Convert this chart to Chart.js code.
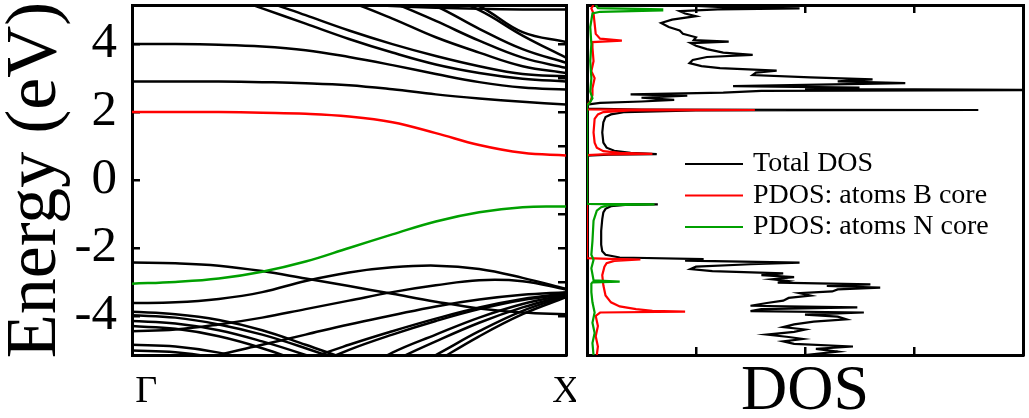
<!DOCTYPE html>
<html>
<head>
<meta charset="utf-8">
<script src="https://cdn.jsdelivr.net/npm/chart.js"></script>
<style>
  html, body { margin: 0; padding: 0; background: #fff; }
  #wrap { position: relative; width: 1029px; height: 418px; }
  #bands { position: absolute; left: 0; top: 0; }
  #dos { position: absolute; left: 576px; top: 0; }
</style>
</head>
<body>
<div id="wrap">
  <canvas id="bands" width="576" height="418"></canvas>
  <canvas id="dos" width="453" height="418"></canvas>
</div>
<script>
// k path Γ -> X
const kPoints = [0, 0.1, 0.2, 0.3, 0.4, 0.5, 0.6, 0.7, 0.8, 0.9, 1.0];
const kLabels = ['   Γ', 'X'];
const energyTicks = [-4, -3, -2, -1, 0, 1, 2, 3, 4];

// bands (eV) at kPoints
const bandB = [2.0, 2.0, 2.0, 1.98, 1.95, 1.87, 1.7, 1.38, 1.03, 0.8, 0.72];
const bandN = [-3.05, -3.0, -2.9, -2.7, -2.4, -2.0, -1.6, -1.22, -0.95, -0.8, -0.78];

const conductionBands = [
  [4.0, 4.0, 3.98, 3.93, 3.82, 3.62, 3.38, 3.12, 2.88, 2.72, 2.66],
  [2.9, 2.9, 2.9, 2.88, 2.85, 2.79, 2.67, 2.52, 2.4, 2.3, 2.22],
  [6.0, 5.8, 5.5, 5.05, 4.6, 4.15, 3.75, 3.4, 3.15, 2.98, 2.9],
  [6.3, 6.1, 5.8, 5.3, 4.85, 4.4, 4.0, 3.65, 3.35, 3.12, 3.05],
  [7.0, 6.8, 6.5, 6.1, 5.65, 5.25, 4.75, 4.2, 3.75, 3.35, 3.15],
  [7.5, 7.3, 7.0, 6.6, 6.1, 5.65, 5.22, 4.68, 4.1, 3.6, 3.3],
  [8.0, 7.8, 7.5, 7.1, 6.6, 6.1, 5.6, 5.12, 4.45, 3.85, 3.45],
  [8.0, 8.0, 7.8, 7.4, 6.9, 6.4, 5.9, 5.5, 5.0, 4.25, 3.6],
  [8.0, 8.0, 8.0, 7.6, 7.1, 6.6, 6.1, 5.6, 5.12, 4.35, 4.06],
  [5.3, 5.3, 5.3, 5.28, 5.24, 5.18, 5.12, 5.07, 5.04, 5.02, 5.02]
];

const valenceBands = [
  [-2.43, -2.45, -2.52, -2.68, -2.9, -3.12, -3.35, -3.58, -3.78, -3.9, -3.95],
  [-3.62, -3.6, -3.5, -3.3, -2.97, -2.72, -2.57, -2.52, -2.62, -2.88, -3.2],
  [-4.45, -4.4, -4.25, -4.05, -3.8, -3.55, -3.3, -3.1, -2.95, -2.98, -3.22],
  [-5.8, -5.5, -5.15, -4.85, -4.55, -4.25, -3.98, -3.72, -3.52, -3.38, -3.3],
  [-7.0, -6.7, -6.3, -5.85, -5.3, -4.85, -4.45, -4.08, -3.75, -3.5, -3.33],
  [-7.2, -6.9, -6.6, -6.15, -5.55, -5.0, -4.55, -4.15, -3.8, -3.53, -3.36],
  [-8.0, -7.8, -7.5, -7.0, -6.4, -5.8, -5.08, -4.55, -4.05, -3.65, -3.38],
  [-8.0, -8.0, -7.8, -7.3, -6.7, -6.1, -5.35, -4.75, -4.2, -3.75, -3.4],
  [-8.0, -8.0, -8.0, -7.8, -7.2, -6.6, -5.8, -5.15, -4.45, -3.85, -3.42],
  [-8.0, -8.0, -8.0, -8.0, -7.6, -6.9, -6.1, -5.35, -4.6, -3.95, -3.45],
  [-3.88, -3.95, -4.12, -4.42, -4.85, -5.3, -5.8, -6.3, -6.8, -7.2, -7.4],
  [-3.98, -4.05, -4.25, -4.55, -4.95, -5.4, -5.9, -6.4, -6.9, -7.3, -7.5],
  [-4.15, -4.22, -4.42, -4.75, -5.15, -5.6, -6.1, -6.6, -7.0, -7.4, -7.6],
  [-4.3, -4.38, -4.6, -4.95, -5.4, -5.9, -6.4, -6.9, -7.3, -7.6, -7.8],
  [-4.85, -4.9, -5.08, -5.4, -5.8, -6.3, -6.8, -7.2, -7.5, -7.7, -7.8],
  [-5.02, -5.07, -5.25, -5.6, -6.0, -6.5, -7.0, -7.4, -7.7, -7.9, -8.0]
];

// DOS: [energy eV, value]
const totalDos = [
  [5.15, 1.4], [5.12, 1.0], [5.08, 1.3], [5.05, 1.95], [5.02, 1.2], [4.97, 0.85], [4.9, 0.9],
  [4.82, 1.0], [4.72, 0.78], [4.62, 0.68], [4.5, 0.75], [4.4, 0.85], [4.3, 0.88], [4.2, 1.0],
  [4.12, 0.98], [4.07, 1.3], [4.03, 0.95], [3.95, 1.0], [3.85, 1.1], [3.75, 1.25], [3.68, 1.52],
  [3.62, 1.1], [3.53, 0.97], [3.44, 0.94], [3.35, 1.05], [3.29, 1.22], [3.22, 1.74], [3.16, 1.55],
  [3.09, 1.52], [3.02, 2.05], [2.96, 2.62], [2.9, 2.3], [2.85, 2.92], [2.8, 2.0], [2.76, 1.34],
  [2.72, 2.5], [2.68, 2.0], [2.65, 4.3], [2.62, 1.6], [2.57, 1.25], [2.52, 0.4], [2.48, 0.92],
  [2.42, 0.5], [2.36, 0.8], [2.31, 0.5], [2.27, 0.12], [2.22, 0.0], [2.1, 0.0], [2.075, 0.5],
  [2.06, 3.59], [2.045, 1.0], [2.0, 0.35], [1.93, 0.22], [1.85, 0.17], [1.7, 0.15], [1.4, 0.14],
  [1.1, 0.15], [0.95, 0.18], [0.86, 0.25], [0.8, 0.4], [0.76, 0.64], [0.745, 0.2], [0.72, 0.0],
  [-0.7, 0.0], [-0.715, 0.65], [-0.73, 0.35], [-0.77, 0.22], [-0.85, 0.17], [-0.95, 0.15],
  [-1.15, 0.14], [-1.5, 0.13], [-1.9, 0.13], [-2.1, 0.14], [-2.2, 0.17], [-2.28, 0.3],
  [-2.33, 1.07], [-2.37, 0.9], [-2.43, 1.95], [-2.48, 1.5], [-2.55, 1.0], [-2.62, 0.95],
  [-2.68, 1.15], [-2.75, 1.8], [-2.8, 1.6], [-2.86, 1.9], [-2.92, 1.7], [-2.97, 1.84],
  [-3.02, 1.75], [-3.07, 2.6], [-3.12, 2.2], [-3.17, 2.69], [-3.22, 2.3], [-3.28, 2.25],
  [-3.33, 1.95], [-3.4, 2.05], [-3.47, 1.85], [-3.55, 1.8], [-3.62, 1.65], [-3.7, 1.5],
  [-3.75, 2.48], [-3.8, 1.6], [-3.86, 1.5], [-3.9, 2.54], [-3.96, 2.0], [-4.02, 2.3],
  [-4.1, 2.38], [-4.17, 2.08], [-4.25, 1.9], [-4.33, 1.8], [-4.4, 2.0], [-4.47, 1.9],
  [-4.55, 1.65], [-4.62, 1.85], [-4.68, 1.98], [-4.75, 1.8], [-4.82, 1.9], [-4.9, 2.44],
  [-4.97, 2.1], [-5.05, 2.3], [-5.15, 2.0]
];

const bCoreDos = [
  [5.15, 0.06], [5.05, 0.04], [4.9, 0.06], [4.6, 0.07], [4.3, 0.08], [4.16, 0.12], [4.1, 0.32],
  [4.06, 0.05], [3.9, 0.05], [3.5, 0.06], [3.2, 0.04], [3.0, 0.07], [2.7, 0.05], [2.5, 0.05],
  [2.3, 0.03], [2.22, 0], [2.08, 0], [2.07, 0.3], [2.06, 1.54], [2.045, 0.4], [2.0, 0.15],
  [1.93, 0.1], [1.8, 0.07], [1.4, 0.06], [1.1, 0.07], [0.95, 0.09], [0.85, 0.15], [0.8, 0.3],
  [0.77, 0.6], [0.755, 0.15], [0.73, 0], [-2.3, 0], [-2.32, 0.2], [-2.34, 0.49], [-2.38, 0.25],
  [-2.45, 0.18], [-2.55, 0.16], [-2.8, 0.14], [-3.1, 0.15], [-3.4, 0.17], [-3.6, 0.22],
  [-3.72, 0.3], [-3.8, 0.45], [-3.85, 0.6], [-3.875, 0.9], [-3.9, 0.12], [-4.0, 0.08],
  [-4.3, 0.1], [-4.6, 0.08], [-4.9, 0.1], [-5.15, 0.09]
];

const nCoreDos = [
  [5.15, 0.08], [5.06, 0.1], [5.02, 0.69], [4.99, 0.69], [4.95, 0.12], [4.9, 0.05], [4.5, 0.03],
  [4.0, 0.04], [3.5, 0.03], [3.0, 0.04], [2.6, 0.03], [2.4, 0.05], [2.25, 0.02], [2.2, 0],
  [-0.7, 0], [-0.71, 0.3], [-0.72, 0.62], [-0.74, 0.2], [-0.8, 0.13], [-0.9, 0.09], [-1.2, 0.06],
  [-1.8, 0.05], [-2.2, 0.04], [-2.35, 0.06], [-2.6, 0.04], [-2.95, 0.06], [-2.99, 0.3],
  [-3.01, 0.05], [-3.05, 0.04], [-3.3, 0.04], [-3.6, 0.05], [-3.9, 0.07], [-4.2, 0.05],
  [-4.5, 0.07], [-4.8, 0.05], [-5.15, 0.06]
];

const legendLabels = ['Total DOS', 'PDOS: atoms B core', 'PDOS: atoms N core'];

const SERIF = '"Liberation Serif", "DejaVu Serif", serif';
const E_MIN = -5.15, E_MAX = 5.15;

function bandPoints(values) {
  return kPoints.map((k, i) => ({ x: k, y: values[i] }));
}
function dosPoints(pairs) {
  return pairs.map(p => ({ x: p[1], y: p[0] }));
}

// fixed scale sizes so the plot boxes land where they should
function fixSize(w, h) {
  return s => {
    if (w !== null) s.width = w;
    if (h !== null) s.height = h;
    s.paddingTop = 0; s.paddingBottom = 0; s.paddingLeft = 0; s.paddingRight = 0;
  };
}

const boxBorder = { display: true, color: '#000', width: 3 };
const inTicks = { drawOnChartArea: false, drawTicks: true, tickLength: -8, color: '#000', lineWidth: 2.5 };
const energyTickBuilder = s => { s.ticks = energyTicks.map(v => ({ value: v })); };

const bandDatasets = [
  { data: bandPoints(bandB), borderColor: '#ff0000' },
  { data: bandPoints(bandN), borderColor: '#00a000' }
].concat(conductionBands.concat(valenceBands).map(b => ({ data: bandPoints(b), borderColor: '#000' })));

bandDatasets.forEach(d => {
  d.borderWidth = 2.5;
  d.pointRadius = 0;
  d.tension = 0.4;
  d.fill = false;
});

new Chart(document.getElementById('bands'), {
  type: 'line',
  data: { datasets: bandDatasets },
  options: {
    responsive: false,
    animation: false,
    events: [],
    layout: { padding: { top: 5, right: 10, bottom: 0, left: 0 } },
    elements: { line: { capBezierPoints: false } },
    plugins: { legend: { display: false }, tooltip: { enabled: false } },
    scales: {
      x: {
        type: 'linear', position: 'bottom', min: 0, max: 1,
        afterBuildTicks: s => { s.ticks = [{ value: 0 }, { value: 1 }]; },
        ticks: {
          callback: v => (v === 0 ? kLabels[0] : v === 1 ? kLabels[1] : ''),
          font: { family: SERIF, size: 38 }, color: '#000', padding: 14, maxRotation: 0
        },
        grid: { display: false, drawTicks: false },
        border: boxBorder,
        afterFit: fixSize(null, 63)
      },
      x2: {
        type: 'linear', position: 'top', min: 0, max: 1,
        ticks: { display: false },
        grid: { display: false, drawTicks: false },
        border: boxBorder,
        afterFit: fixSize(null, 0)
      },
      y: {
        type: 'linear', position: 'left', min: E_MIN, max: E_MAX,
        afterBuildTicks: energyTickBuilder,
        ticks: {
          callback: v => (v % 2 === 0 ? String(v) : ''),
          font: { family: SERIF, size: 51 }, color: '#000', padding: 23
        },
        grid: inTicks,
        border: boxBorder,
        title: {
          display: true, text: 'Energy (eV)', color: '#000',
          font: { family: SERIF, size: 72, lineHeight: 1 },
          padding: { top: 0, bottom: 0 }
        },
        afterFit: fixSize(132, null)
      },
      y2: {
        type: 'linear', position: 'right', min: E_MIN, max: E_MAX,
        afterBuildTicks: energyTickBuilder,
        ticks: { display: false },
        grid: inTicks,
        border: boxBorder,
        afterFit: fixSize(0, null)
      }
    }
  }
});

const legendColors = ['#000', '#ff0000', '#00a000'];
const insideLegend = {
  id: 'insideLegend',
  afterDatasetsDraw(chart) {
    const { ctx, chartArea } = chart;
    ctx.save();
    ctx.font = '28px ' + SERIF;
    ctx.textBaseline = 'middle';
    ctx.textAlign = 'left';
    legendLabels.forEach((label, i) => {
      const y = chartArea.top + 159 + i * 31.5;
      ctx.strokeStyle = legendColors[i];
      ctx.lineWidth = 2;
      ctx.beginPath();
      ctx.moveTo(chartArea.left + 98, y);
      ctx.lineTo(chartArea.left + 156, y);
      ctx.stroke();
      ctx.fillStyle = '#000';
      ctx.fillText(label, chartArea.left + 166, y);
    });
    ctx.restore();
  }
};

new Chart(document.getElementById('dos'), {
  type: 'scatter',
  data: {
    datasets: [
      { label: legendLabels[2], data: dosPoints(nCoreDos), borderColor: '#00a000' },
      { label: legendLabels[1], data: dosPoints(bCoreDos), borderColor: '#ff0000' },
      { label: legendLabels[0], data: dosPoints(totalDos), borderColor: '#000' }
    ].map(d => Object.assign(d, { showLine: true, pointRadius: 0, borderWidth: 2.2, tension: 0 }))
  },
  options: {
    responsive: false,
    animation: false,
    events: [],
    layout: { padding: { top: 5, right: 6, bottom: 0, left: 11 } },
    plugins: { legend: { display: false }, tooltip: { enabled: false } },
    scales: {
      x: {
        type: 'linear', position: 'bottom', min: 0, max: 4,
        afterBuildTicks: s => { s.ticks = [1, 2, 3].map(v => ({ value: v })); },
        ticks: { display: false },
        grid: inTicks,
        border: boxBorder,
        title: {
          display: true, text: 'DOS', color: '#000',
          font: { family: SERIF, size: 64, lineHeight: 0.8 },
          padding: { top: 0, bottom: 0 }
        },
        afterFit: fixSize(null, 63)
      },
      x2: {
        type: 'linear', position: 'top', min: 0, max: 4,
        afterBuildTicks: s => { s.ticks = [1, 2, 3].map(v => ({ value: v })); },
        ticks: { display: false },
        grid: inTicks,
        border: boxBorder,
        afterFit: fixSize(null, 0)
      },
      y: {
        type: 'linear', position: 'left', min: E_MIN, max: E_MAX,
        ticks: { display: false },
        grid: { display: false, drawTicks: false },
        border: boxBorder,
        afterFit: fixSize(0, null)
      },
      y2: {
        type: 'linear', position: 'right', min: E_MIN, max: E_MAX,
        ticks: { display: false },
        grid: { display: false, drawTicks: false },
        border: boxBorder,
        afterFit: fixSize(0, null)
      }
    }
  },
  plugins: [insideLegend]
});
</script>
</body>
</html>
